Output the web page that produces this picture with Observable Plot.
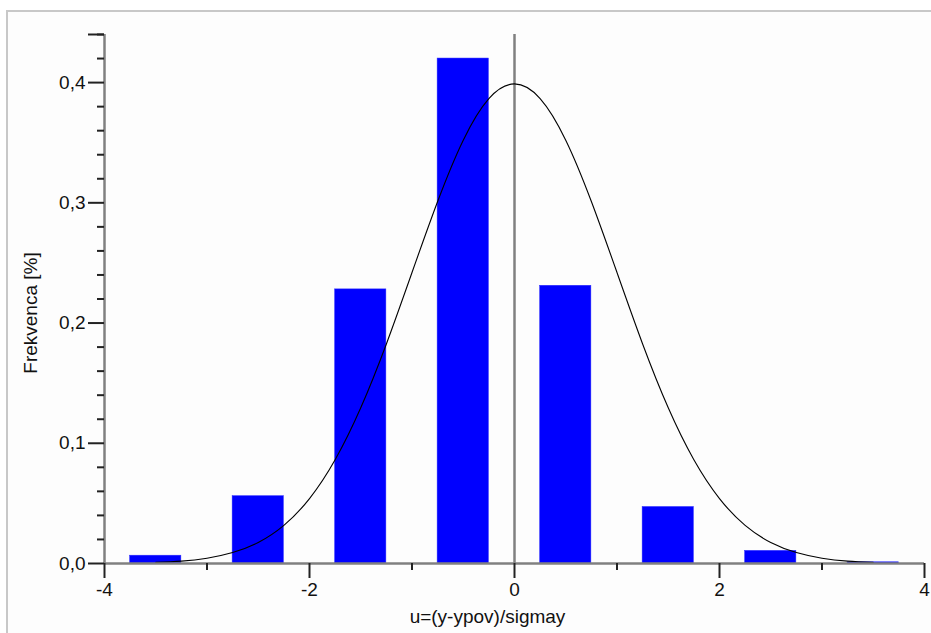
<!DOCTYPE html>
<html>
<head>
<meta charset="utf-8">
<script src="https://cdn.jsdelivr.net/npm/d3@7"></script>
<script src="https://cdn.jsdelivr.net/npm/@observablehq/plot@0.6"></script>
<style>
  html, body { margin: 0; padding: 0; background: #ffffff; }
  #wrap { position: relative; width: 931px; height: 633px; overflow: hidden; }
  #frame { position: absolute; left: 6px; top: 10px; width: 940px; height: 640px;
           border-left: 2px solid #c8c8c8; border-top: 2px solid #c8c8c8; background: #fdfdfd; }
  #chart { position: absolute; left: 0; top: 0; }
  #chart svg { background: transparent !important; }
</style>
</head>
<body>
<div id="wrap"><div id="frame"></div><div id="chart"></div></div>
<script>
// Histogram bins (centers) and relative frequencies
const binCenters = [-3.5, -2.5, -1.5, -0.5, 0.5, 1.5, 2.5, 3.5];
const frequencies = [0.0065, 0.056, 0.228, 0.420, 0.231, 0.047, 0.0105, 0.001];
const barHalfWidth = 0.25;

// Reference curve
const curveX = [-3.5, -3.25, -3, -2.75, -2.5, -2.25, -2, -1.75, -1.5, -1.25, -1, -0.75, -0.5, -0.25, 0,
                0.25, 0.5, 0.75, 1, 1.25, 1.5, 1.75, 2, 2.25, 2.5, 2.75, 3, 3.25, 3.5];
const curveY = [0.0009, 0.002, 0.0044, 0.0091, 0.0175, 0.0317, 0.054, 0.0863, 0.1295, 0.1826, 0.242, 0.3011, 0.3521, 0.3867, 0.3989,
                0.3867, 0.3521, 0.3011, 0.242, 0.1826, 0.1295, 0.0863, 0.054, 0.0317, 0.0175, 0.0091, 0.0044, 0.002, 0.0009];

const xMajorTicks = [-4, -2, 0, 2, 4];
const xMinorTicks = [-3, -1, 1, 3];
const yMajorTicks = [0, 0.1, 0.2, 0.3, 0.4];
const yMinorTicks = d3.range(0, 23).map(i => +(i * 0.02).toFixed(2)).filter(v => !yMajorTicks.some(m => Math.abs(m - v) < 1e-9));

const xLabel = "u=(y-ypov)/sigmay";
const yLabel = "Frekvenca [%]";

const bars = binCenters.map((c, i) => ({c, f: frequencies[i]}));
const curve = curveX.map((x, i) => ({x, y: curveY[i]}));

const fmt = d => d.toFixed(1).replace(".", ",");
const FS = 19;

const plot = Plot.plot({
  width: 931,
  height: 633,
  marginLeft: 104,
  marginRight: 7,
  marginTop: 34,
  marginBottom: 70,
  style: {fontFamily: "Liberation Sans, Arial, sans-serif", fontSize: FS + "px", color: "#111", background: "transparent"},
  x: {domain: [-4, 4]},
  y: {domain: [0, 0.44]},
  marks: [
    Plot.rectY(bars, {x1: d => d.c - barHalfWidth, x2: d => d.c + barHalfWidth, y: "f", fill: "#0000ff", stroke: "#2a2aff", strokeWidth: 0.5}),
    Plot.ruleX([0], {y1: 0, y2: 0.44, stroke: "#808080", strokeWidth: 2.5}),
    Plot.line(curve, {x: "x", y: "y", stroke: "#000", strokeWidth: 1.1, curve: "natural"}),
    Plot.ruleY([0], {x1: -4, x2: 4, stroke: "#808080", strokeWidth: 2.5}),
    Plot.ruleX([-4], {y1: 0, y2: 0.44, stroke: "#808080", strokeWidth: 2.5}),
    Plot.axisY({ticks: yMinorTicks, tickSize: 7, tickFormat: () => "", stroke: "#222", strokeWidth: 2, label: null}),
    Plot.axisY({ticks: yMajorTicks.concat([0.44]), tickSize: 16, tickPadding: 3, fontSize: FS, tickFormat: d => d === 0.44 ? "" : fmt(d), stroke: "#222", strokeWidth: 2, label: null}),
    Plot.axisX({ticks: xMinorTicks, tickSize: 7, tickFormat: () => "", stroke: "#222", strokeWidth: 2, label: null}),
    Plot.axisX({ticks: xMajorTicks, tickSize: 15, tickPadding: 4, fontSize: FS, tickFormat: d => String(d), stroke: "#222", strokeWidth: 2, label: null}),
    Plot.text([xLabel], {frameAnchor: "bottom", dx: -27, dy: 59, text: d => d, fontSize: FS, fill: "#111"}),
    Plot.text([yLabel], {frameAnchor: "left", textAnchor: "middle", dx: -74, dy: 14, text: d => d, rotate: -90, fontSize: FS, fill: "#111"})
  ]
});
document.getElementById("chart").appendChild(plot);
</script>
</body>
</html>
